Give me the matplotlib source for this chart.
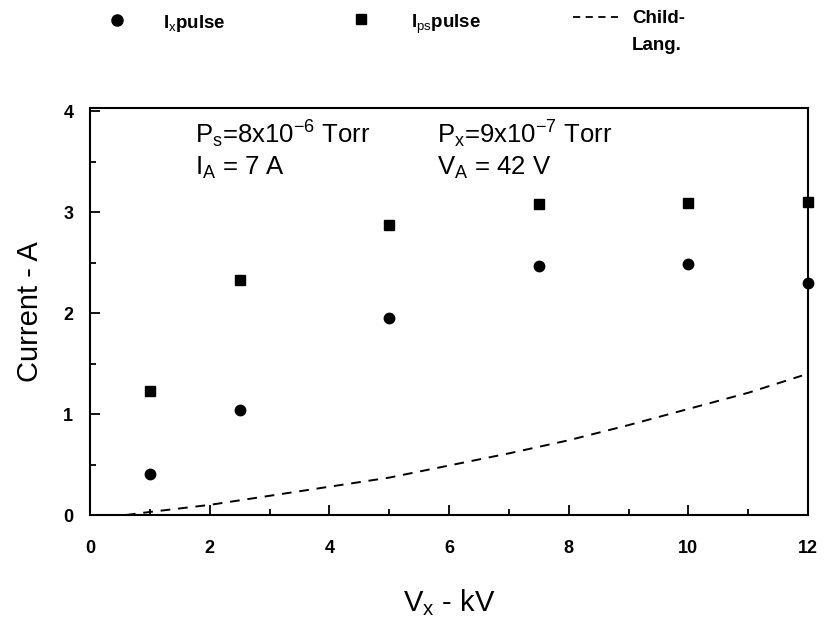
import matplotlib.pyplot as plt
from matplotlib.lines import Line2D
from matplotlib.ticker import MultipleLocator

plt.rcParams['font.family'] = ['Liberation Sans', 'DejaVu Sans']
plt.rcParams['mathtext.fontset'] = 'custom'
plt.rcParams['mathtext.rm'] = 'Liberation Sans'
plt.rcParams['mathtext.it'] = 'Liberation Sans'
plt.rcParams['mathtext.bf'] = 'Liberation Sans:bold'

# measured points
vx = [1, 2.5, 5, 7.5, 10, 12]
ix_pulse = [0.41, 1.04, 1.95, 2.47, 2.49, 2.30]
ips_pulse = [1.23, 2.33, 2.87, 3.08, 3.09, 3.10]

# Child-Langmuir curve
cl_v = [0.6, 1, 2, 3, 4, 5, 6, 7, 8, 9, 10, 11, 11.9]
cl_i = [0.0, 0.03, 0.10, 0.19, 0.28, 0.37, 0.49, 0.61, 0.74, 0.89, 1.05, 1.21, 1.38]

x_ticks = [0, 2, 4, 6, 8, 10, 12]
y_ticks = [0, 1, 2, 3, 4]

W, H = 825, 626
fig = plt.figure(figsize=(W / 100, H / 100), dpi=100)
ax = fig.add_axes([90 / W, (H - 515) / H, (808 - 90) / W, (515 - 108) / H])

ax.plot(vx, ix_pulse, 'o', color='black', markersize=7.5, clip_on=False)
ax.plot(vx, ips_pulse, 's', color='black', markersize=7, clip_on=False)
ax.plot(cl_v, cl_i, '--', color='black', linewidth=1.4, dashes=(5, 4))

ax.set_xlim(0, 12)
ax.set_ylim(0, 4.03)
ax.set_xticks(x_ticks)
ax.set_xticklabels([str(t) for t in x_ticks], fontweight='bold')
ax.set_yticks(y_ticks)
ax.set_yticklabels([str(t) for t in y_ticks], fontweight='bold')
ax.xaxis.set_minor_locator(MultipleLocator(1))
ax.yaxis.set_minor_locator(MultipleLocator(0.5))
ax.tick_params(which='both', direction='in', width=1.3, labelsize=13)
ax.tick_params(axis='x', pad=18)
ax.tick_params(axis='y', pad=12)
ax.tick_params(which='major', length=7)
ax.tick_params(which='minor', length=4)
for s in ax.spines.values():
    s.set_linewidth(1.5)

ax.set_xlabel('V$_x$ - kV', fontsize=21, labelpad=22)
ax.set_ylabel('Current - A', fontsize=21, labelpad=14)

ax.text(1.75, 3.68, 'P$_s$=8x10$^{-6}$ Torr', fontsize=18.5)
ax.text(1.75, 3.37, 'I$_A$ = 7 A', fontsize=18.5)
ax.text(5.8, 3.68, 'P$_x$=9x10$^{-7}$ Torr', fontsize=18.5)
ax.text(5.8, 3.37, 'V$_A$ = 42 V', fontsize=18.5)

# legend above the plot
fig.add_artist(Line2D([117 / W], [1 - 20 / H], marker='o', color='black', markersize=8, linestyle='none'))
fig.text(163 / W, 1 - 28 / H, 'I$_x$pulse', fontsize=13.5, fontweight='bold', va='baseline')
fig.add_artist(Line2D([361 / W], [1 - 19 / H], marker='s', color='black', markersize=7.5, linestyle='none'))
fig.text(411 / W, 1 - 28 / H, 'I$_{ps}$pulse', fontsize=13.5, fontweight='bold', va='baseline')
fig.add_artist(Line2D([573 / W, 618 / W], [1 - 17 / H, 1 - 17 / H], color='black', linestyle='--',
                      linewidth=1.3, dashes=(4, 3)))
fig.text(632 / W, 1 - 23 / H, 'Child-', fontsize=13.5, fontweight='bold', va='baseline')
fig.text(632 / W, 1 - 50 / H, 'Lang.', fontsize=13.5, fontweight='bold', va='baseline')

fig.savefig('out.png', dpi=100)
